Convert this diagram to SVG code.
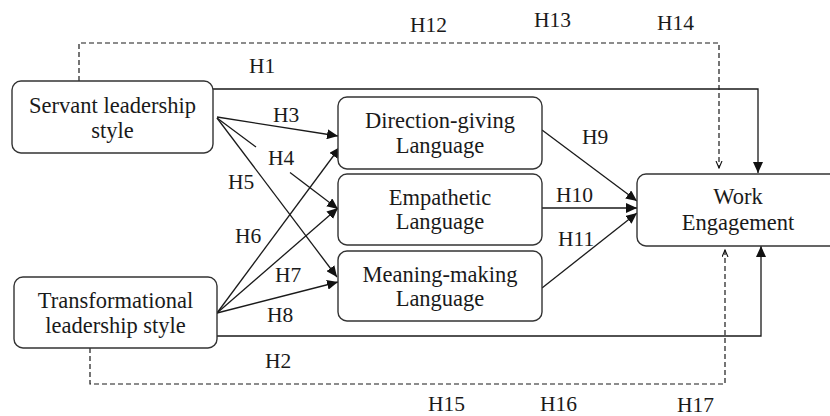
<svg xmlns="http://www.w3.org/2000/svg" width="830" height="416" viewBox="0 0 830 416">
<defs>
<style>
.node rect{fill:#fff;stroke:#333;stroke-width:1.4}
.nt{font-family:'Liberation Serif','DejaVu Serif','Times New Roman',serif;font-size:22.5px;fill:#1a1a1a;text-anchor:middle}
.lb{font-family:'Liberation Serif','DejaVu Serif','Times New Roman',serif;font-size:21.5px;fill:#1a1a1a}
.ln{fill:none;stroke:#1a1a1a;stroke-width:1.3}
.ds{fill:none;stroke:#1a1a1a;stroke-width:1.2;stroke-dasharray:5 3}
</style>
<marker id="ah" markerUnits="userSpaceOnUse" markerWidth="12" markerHeight="10" refX="11" refY="5" orient="auto">
<path d="M0,0 L11,5 L0,10 Z" fill="#111"/>
</marker>
<marker id="oh" markerUnits="userSpaceOnUse" markerWidth="8" markerHeight="8" refX="7" refY="3.5" orient="auto">
<path d="M0,0.5 L7,3.5 L0,6.5" fill="none" stroke="#111" stroke-width="1.1"/>
</marker>
</defs>
<rect width="830" height="416" fill="#fff"/>

<g id="connectors">
<path class="ds" d="M79,81 V43 H719 V168" marker-end="url(#oh)"/>
<path class="ds" d="M90,348 V384 H725 V250" marker-end="url(#oh)"/>
<path class="ln" d="M213,89 H758 V173" marker-end="url(#ah)"/>
<path class="ln" d="M217,336 H761 V246" marker-end="url(#ah)"/>
<line class="ln" x1="217" y1="117" x2="338" y2="136" marker-end="url(#ah)"/>
<line class="ln" x1="217" y1="118" x2="256" y2="147"/>
<line class="ln" x1="290" y1="172.5" x2="338" y2="209" marker-end="url(#ah)"/>
<line class="ln" x1="217" y1="118" x2="337" y2="277" marker-end="url(#ah)"/>
<line class="ln" x1="217" y1="313" x2="340" y2="147" marker-end="url(#ah)"/>
<line class="ln" x1="217" y1="313" x2="338" y2="208" marker-end="url(#ah)"/>
<line class="ln" x1="217" y1="313" x2="338" y2="282" marker-end="url(#ah)"/>
<line class="ln" x1="542" y1="130" x2="637" y2="201" marker-end="url(#ah)"/>
<line class="ln" x1="542" y1="208" x2="637" y2="208" marker-end="url(#ah)"/>
<line class="ln" x1="542" y1="288" x2="637" y2="213" marker-end="url(#ah)"/>
</g>

<g id="labels" font-family="Liberation Serif, DejaVu Serif, serif">
<text class="lb" x="410" y="32">H12</text>
<text class="lb" x="534" y="27">H13</text>
<text class="lb" x="657" y="30">H14</text>
<text class="lb" x="249" y="73">H1</text>
<text class="lb" x="273" y="122">H3</text>
<text class="lb" x="268" y="165">H4</text>
<text class="lb" x="228" y="189">H5</text>
<text class="lb" x="235" y="243">H6</text>
<text class="lb" x="275" y="282">H7</text>
<text class="lb" x="267" y="322">H8</text>
<text class="lb" x="265" y="368">H2</text>
<text class="lb" x="582" y="144">H9</text>
<text class="lb" x="556" y="202">H10</text>
<text class="lb" x="558" y="246">H11</text>
<text class="lb" x="428" y="411">H15</text>
<text class="lb" x="540" y="411">H16</text>
<text class="lb" x="677" y="412">H17</text>
</g>

<g id="servant" class="node">
<rect x="12" y="81" width="201" height="72" rx="9"/>
<text class="nt" x="112.5" y="113">Servant leadership</text>
<text class="nt" x="112.5" y="138">style</text>
</g>
<g id="transformational" class="node">
<rect x="14" y="277" width="203" height="71" rx="9"/>
<text class="nt" x="115.5" y="308">Transformational</text>
<text class="nt" x="115.5" y="333">leadership style</text>
</g>
<g id="direction" class="node">
<rect x="338" y="97" width="204" height="72" rx="9"/>
<text class="nt" x="440" y="128">Direction-giving</text>
<text class="nt" x="440" y="153">Language</text>
</g>
<g id="empathetic" class="node">
<rect x="338" y="174" width="204" height="71" rx="9"/>
<text class="nt" x="440" y="205">Empathetic</text>
<text class="nt" x="440" y="229">Language</text>
</g>
<g id="meaning" class="node">
<rect x="338" y="251" width="204" height="70" rx="9"/>
<text class="nt" x="440" y="282">Meaning-making</text>
<text class="nt" x="440" y="306">Language</text>
</g>
<g id="work" class="node">
<rect x="637" y="174" width="220" height="72" rx="9"/>
<text class="nt" x="738" y="204">Work</text>
<text class="nt" x="738" y="230">Engagement</text>
</g>
</svg>
